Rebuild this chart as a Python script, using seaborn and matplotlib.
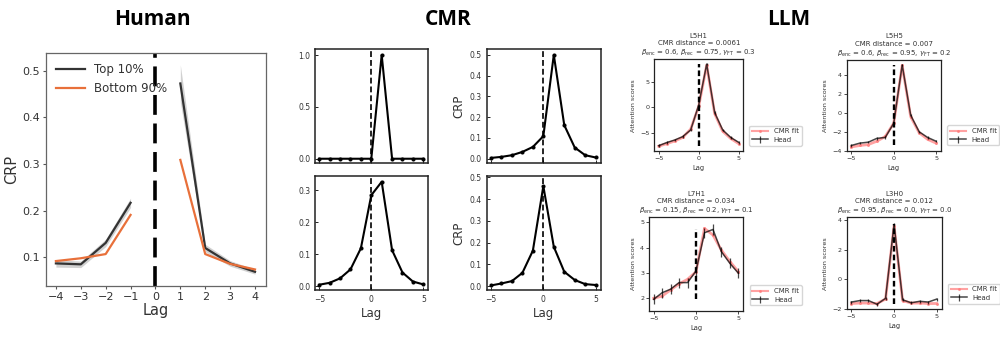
import numpy as np
import pandas as pd
import matplotlib
matplotlib.use("Agg")
import matplotlib.pyplot as plt
import seaborn as sns
from matplotlib.lines import Line2D

# ---------------- data ----------------
human_lags = [-4, -3, -2, -1, 1, 2, 3, 4]
human_side = ["neg", "neg", "neg", "neg", "pos", "pos", "pos", "pos"]
human_top = [0.087, 0.085, 0.131, 0.217, 0.473, 0.120, 0.087, 0.069]
human_top_err = [0.008, 0.007, 0.008, 0.010, 0.040, 0.008, 0.006, 0.005]
human_bottom = [0.092, 0.098, 0.107, 0.191, 0.309, 0.107, 0.086, 0.074]
human_groups = ["Top 10%", "Bottom 90%"]

cmr_lags = [-5, -4, -3, -2, -1, 0, 1, 2, 3, 4, 5]
cmr_tl = [0, 0, 0, 0, 0, 0, 1.0, 0, 0, 0, 0]
cmr_tr = [0.003, 0.008, 0.016, 0.032, 0.056, 0.108, 0.500, 0.161, 0.053, 0.016, 0.005]
cmr_bl = [0.004, 0.010, 0.024, 0.052, 0.118, 0.284, 0.326, 0.112, 0.042, 0.014, 0.005]
cmr_br = [0.003, 0.012, 0.023, 0.061, 0.163, 0.460, 0.181, 0.066, 0.028, 0.009, 0.005]

llm_lags = [-5, -4, -3, -2, -1, 0, 1, 2, 3, 4, 5]
llm_names = ["L5H1", "L5H5", "L7H1", "L3H0"]
llm_dist = ["0.0061", "0.007", "0.034", "0.012"]
llm_beta_enc = ["0.6", "0.6", "0.15", "0.95"]
llm_beta_rec = ["0.75", "0.95", "0.2", "0.0"]
llm_gamma = ["0.3", "0.2", "0.1", "0.0"]
head_l5h1 = [-7.4, -6.8, -6.3, -5.65, -4.35, 0.45, 8.4, -1.0, -4.35, -5.8, -6.75]
fit_l5h1 = [-7.5, -7.0, -6.5, -5.8, -4.2, 0.2, 8.2, -1.2, -4.6, -6.0, -7.0]
err_l5h1 = [0.25] * 11
head_l5h5 = [-3.45, -3.2, -3.1, -2.7, -2.6, -1.1, 5.05, -0.25, -2.0, -2.6, -3.0]
fit_l5h5 = [-3.6, -3.45, -3.35, -3.0, -2.5, -1.1, 5.0, -0.4, -2.1, -2.8, -3.2]
err_l5h5 = [0.12] * 11
head_l7h1 = [1.96, 2.22, 2.36, 2.62, 2.62, 3.08, 4.59, 4.72, 3.84, 3.38, 2.99]
fit_l7h1 = [2.0, 2.09, 2.33, 2.57, 2.75, 3.05, 4.76, 4.5, 3.9, 3.45, 3.05]
err_l7h1 = [0.2] * 11
head_l3h0 = [-1.55, -1.45, -1.45, -1.7, -1.3, 3.7, -1.4, -1.6, -1.5, -1.55, -1.35]
fit_l3h0 = [-1.65, -1.62, -1.62, -1.65, -1.35, 3.6, -1.45, -1.62, -1.62, -1.65, -1.65]
err_l3h0 = [0.1] * 11

W, H = 1000, 341
fig = plt.figure(figsize=(10, 3.41), dpi=100)


def rect(x0, y0, x1, y1):
    return [x0 / W, 1 - y1 / H, (x1 - x0) / W, (y1 - y0) / H]


title_kw = dict(fontsize=15, fontweight="bold", family=["Open Sans", "DejaVu Sans"],
                ha="center", va="baseline", color="black")
fig.text(152 / W, 1 - 25 / H, "Human", **title_kw)
fig.text(448 / W, 1 - 25 / H, "CMR", **title_kw)
fig.text(789 / W, 1 - 25 / H, "LLM", **title_kw)

# ---------------- Human ----------------
ax = fig.add_axes(rect(45.7, 52.7, 265.7, 286))
df_h = pd.DataFrame({
    "lag": human_lags * 2,
    "crp": human_top + human_bottom,
    "group": [human_groups[0]] * len(human_lags) + [human_groups[1]] * len(human_lags),
    "side": human_side * 2,
})
top = np.array(human_top)
terr = np.array(human_top_err)
lags = np.array(human_lags)
for s in ["neg", "pos"]:
    m = np.array(human_side) == s
    ax.fill_between(lags[m], top[m] - terr[m], top[m] + terr[m], color="#9a9a9a",
                    alpha=0.45, lw=0)
pal = {"Top 10%": "#333333", "Bottom 90%": "#e8703a"}
sns.lineplot(data=df_h, x="lag", y="crp", hue="group", units="side", estimator=None,
             palette=pal, lw=1.6, ax=ax, legend=False)
ax.axvline(0, color="black", lw=2.6, ls=(0, (5.5, 2.4)))
ax.set_xlim(-4.41, 4.43)
ax.set_ylim(0.0385, 0.539)
ax.set_xticks(range(-4, 5))
ax.set_yticks([0.1, 0.2, 0.3, 0.4, 0.5])
ax.set_xlabel("Lag", fontsize=10.5, color="#333333", labelpad=1)
ax.set_ylabel("CRP", fontsize=10.5, color="#333333", labelpad=2)
ax.tick_params(labelsize=8, colors="#555555", labelcolor="#333333", length=2, width=0.8,
               pad=2)
for sp in ax.spines.values():
    sp.set_color("#666666")
    sp.set_linewidth(0.9)
handles = [Line2D([], [], color=pal[g], lw=1.6) for g in human_groups]
ax.legend(handles, human_groups, loc="upper left", frameon=False, fontsize=8.5,
          labelcolor="#333333", handlelength=2.4, labelspacing=0.5)

# ---------------- CMR ----------------
cmr_specs = [
    (rect(315, 49.3, 428.3, 163.3), cmr_tl, (-0.044, 1.055), [0.0, 0.5, 1.0], False, False),
    (rect(486.7, 49.3, 600.7, 163.3), cmr_tr, (-0.023, 0.527), [0, .1, .2, .3, .4, .5], False, True),
    (rect(315, 175.7, 428.3, 290), cmr_bl, (-0.0125, 0.345), [0, .1, .2, .3], True, False),
    (rect(486.7, 175.7, 600.7, 290), cmr_br, (-0.018, 0.508), [0, .1, .2, .3, .4, .5], True, True),
]
for r, vals, yl, yt, xlab, ylab in cmr_specs:
    ax = fig.add_axes(r)
    sns.lineplot(x=cmr_lags, y=vals, color="black", lw=1.5, marker="o", ms=2.2,
                 mec="black", ax=ax)
    ax.axvline(0, color="black", lw=1.2, ls=(0, (3.5, 1.8)))
    ax.set_xlim(-5.41, 5.48)
    ax.set_ylim(*yl)
    ax.set_xticks([-5, 0, 5])
    ax.set_yticks(yt)
    ax.yaxis.set_major_formatter(matplotlib.ticker.FormatStrFormatter("%.1f"))
    ax.tick_params(labelsize=5.5, labelcolor="#333333", direction="in", length=2, width=0.6)
    if xlab:
        ax.set_xlabel("Lag", fontsize=8.5, color="#333333", labelpad=2)
    else:
        ax.set_xticklabels([])
    if ylab:
        ax.set_ylabel("CRP", fontsize=8.5, color="#333333", labelpad=3)
    for sp in ax.spines.values():
        sp.set_color("#222222")
        sp.set_linewidth(1.1)

# ---------------- LLM ----------------
llm_specs = [
    (rect(654.3, 59.3, 743.3, 151), head_l5h1, fit_l5h1, err_l5h1, (-8.43, 9.34), [-5, 0, 5]),
    (rect(846.7, 60, 941, 150.7), head_l5h5, fit_l5h5, err_l5h5, (-3.97, 5.58), [-4, -2, 0, 2, 4]),
    (rect(649, 217.3, 743.3, 310.7), head_l7h1, fit_l7h1, err_l7h1, (1.51, 5.2), [2, 3, 4, 5]),
    (rect(846.7, 217.3, 941.7, 309), head_l3h0, fit_l3h0, err_l3h0, (-2.02, 4.18), [-2, 0, 2, 4]),
]
fs = 4.6
for i, (r, head, fit, err, yl, yt) in enumerate(llm_specs):
    ax = fig.add_axes(r)
    sns.lineplot(x=llm_lags, y=fit, color="#ff7b7b", alpha=0.7, lw=2.0, marker="o",
                 ms=1.4, mec="#ff7b7b", ax=ax)
    ax.errorbar(llm_lags, head, yerr=err, color="black", alpha=0.72, lw=1.1,
                elinewidth=0.9, capsize=0)
    ax.vlines(0, min(head), max(head), colors="black", lw=1.7, linestyles=[(0, (2.4, 1.3))])
    ax.set_xlim(-5.55, 5.58)
    ax.set_ylim(*yl)
    ax.set_xticks([-5, 0, 5])
    ax.set_yticks(yt)
    ax.tick_params(labelsize=fs, labelcolor="#333333", length=2, width=0.5, pad=1.5)
    ax.set_xlabel("Lag", fontsize=fs + 0.3, color="#333333", labelpad=3)
    ax.set_ylabel("Attention scores", fontsize=fs, color="#333333", labelpad=3)
    title = (f"{llm_names[i]}\nCMR distance = {llm_dist[i]}\n"
             rf"$\beta_{{\rm enc}}$ = {llm_beta_enc[i]}, $\beta_{{\rm rec}}$ = {llm_beta_rec[i]}, "
             rf"$\gamma_{{\rm FT}}$ = {llm_gamma[i]}")
    ax.set_title(title, fontsize=fs + 0.4, color="#333333", pad=3, linespacing=1.3)
    for sp in ax.spines.values():
        sp.set_color("#222222")
        sp.set_linewidth(0.9)
    h_fit = Line2D([], [], color="#ff7b7b", alpha=0.7, lw=1.5, marker="o", ms=1.2)
    h_head = ax.errorbar([], [], yerr=[], color="black", alpha=0.72, lw=1.1, elinewidth=0.9)
    ax.legend([h_fit, h_head], ["CMR fit", "Head"], loc="lower left",
              bbox_to_anchor=(1.03, 0.02), fontsize=fs + 0.4, frameon=True,
              edgecolor="#cccccc", fancybox=True, handlelength=2.3, borderpad=0.4,
              labelspacing=0.35, labelcolor="#333333")

fig.savefig("out.png", dpi=100, facecolor="white")
